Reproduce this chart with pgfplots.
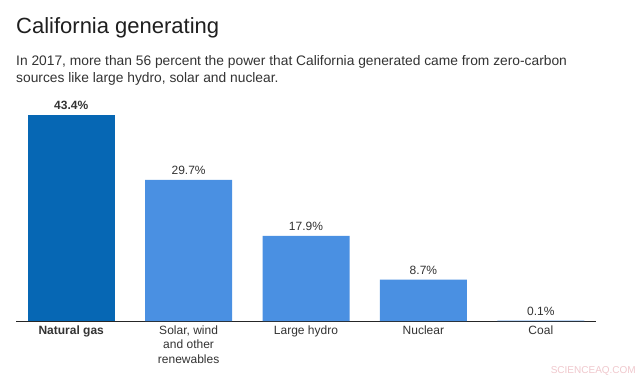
\documentclass[border=0pt]{standalone}
\usepackage{pgfplots}
\pgfplotsset{compat=1.18}
\usepackage{fontspec}
\setmainfont{Liberation Sans}
\definecolor{darkblue}{RGB}{6,103,180}
\definecolor{lightblue}{RGB}{74,144,226}
\definecolor{txt}{RGB}{51,51,51}
\definecolor{wm}{RGB}{240,200,205}
\begin{document}
\begin{tikzpicture}[x=1bp,y=1bp]
\useasboundingbox (0,0) rectangle (640,379);
\fill[white] (0,0) rectangle (640,379);
\node[anchor=base west, inner sep=0, font=\fontsize{22bp}{24bp}\selectfont, text=black!88] at (16,346) {California generating};
\node[anchor=base west, inner sep=0, font=\fontsize{13.8bp}{16bp}\selectfont, text=txt] at (16,314) {In 2017, more than 56 percent the power that California generated came from zero-carbon};
\node[anchor=base west, inner sep=0, font=\fontsize{13.8bp}{16bp}\selectfont, text=txt] at (16,297) {sources like large hydro, solar and nuclear.};
\node[anchor=base east, inner sep=0, font=\fontsize{10bp}{12bp}\selectfont, text=wm] at (636,6) {SCIENCEAQ.COM};
\begin{axis}[
  at={(16bp,58bp)}, anchor=south west, scale only axis,
  width=580bp, height=237.5bp,
  xmin=-0.47, xmax=4.47, ymin=0, ymax=50,
  axis x line*=bottom, axis y line=none,
  x axis line style={draw=black!85, line width=0.8pt, -},
  ytick=\empty,
  xtick={0,1,2,3,4},
  xticklabels={\textbf{Natural gas}, {Solar, wind\\and other\\renewables}, Large hydro, Nuclear, Coal},
  major tick length=0pt,
  xticklabel style={align=center, text=txt, font=\fontsize{12bp}{14.5bp}\selectfont, anchor=north, yshift=-1bp},
  /pgf/number format/assume math mode=true,
  ybar, bar width=87bp, bar shift=0pt,
  nodes near coords={\pgfmathprintnumber[fixed,fixed zerofill,precision=1]{\pgfplotspointmeta}\%},
  nodes near coords style={text=txt, font=\fontsize{12bp}{14bp}\selectfont, anchor=south, inner sep=0pt, yshift=5bp},
  clip=false,
]
\addplot[fill=darkblue, draw=none, nodes near coords={\textbf{\pgfmathprintnumber[fixed,fixed zerofill,precision=1]{\pgfplotspointmeta}\%}}] coordinates {(0,43.4)};
\addplot[fill=lightblue, draw=none] coordinates {(1,29.7) (2,17.9) (3,8.7) (4,0.1)};
\end{axis}
\end{tikzpicture}
\end{document}
